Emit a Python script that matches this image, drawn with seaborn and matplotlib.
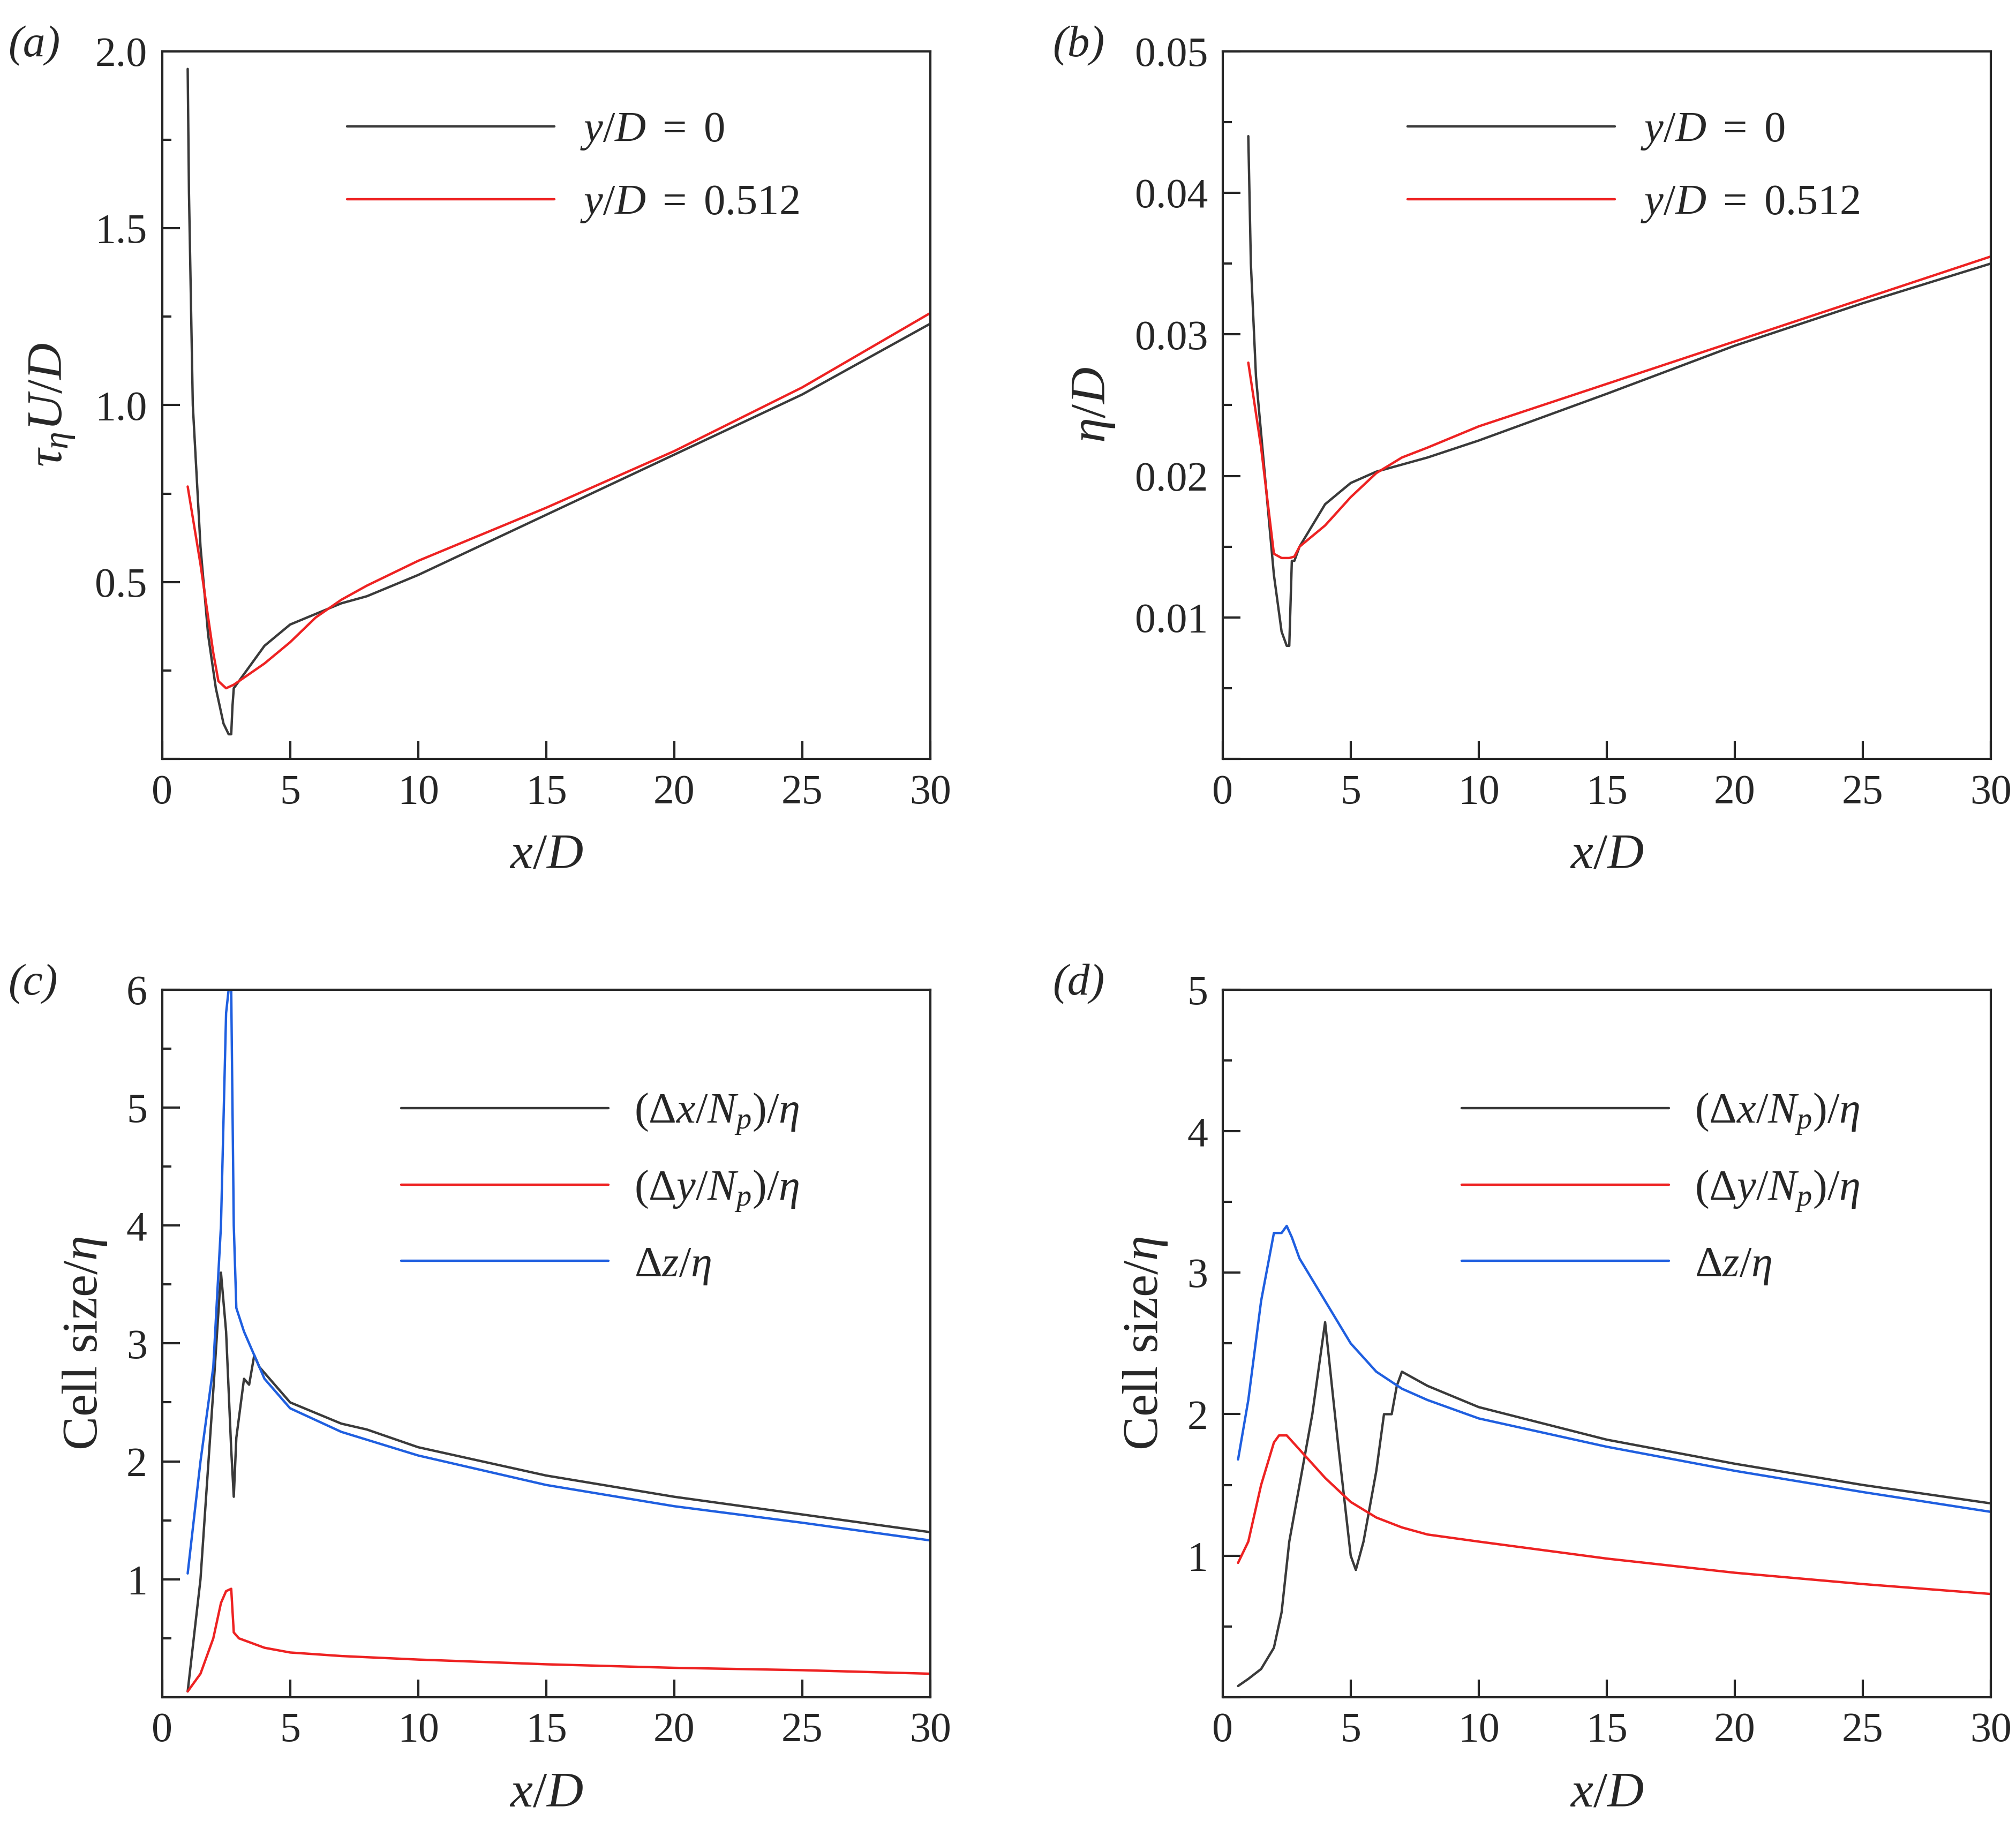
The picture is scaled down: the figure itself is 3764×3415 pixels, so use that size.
import numpy as np
import pandas as pd
import seaborn as sns
import matplotlib
matplotlib.use("Agg")
import matplotlib.pyplot as plt
from matplotlib.ticker import MultipleLocator

sns.set_style("ticks")
plt.rcParams['font.family'] = ['Liberation Serif', 'DejaVu Serif']
plt.rcParams['mathtext.fontset'] = 'custom'
plt.rcParams['mathtext.rm'] = 'Liberation Serif'
plt.rcParams['mathtext.it'] = 'Liberation Serif:italic'
plt.rcParams['mathtext.bf'] = 'Liberation Serif:bold'

# ---- data ----
a_k_x = [1.0,1.05,1.2,1.5,1.8,2.1,2.4,2.6,2.7,2.75,2.8,3.0,3.5,4,5,6,7,8,10,15,20,25,30]
a_k_y = [1.95,1.6,1.0,0.6,0.35,0.2,0.1,0.07,0.07,0.15,0.2,0.22,0.27,0.32,0.38,0.41,0.44,0.46,0.52,0.69,0.86,1.03,1.23]
a_r_x = [1.0,1.5,2.0,2.2,2.5,2.8,3.0,4,5,6,7,8,10,15,20,25,30]
a_r_y = [0.77,0.55,0.3,0.22,0.2,0.21,0.22,0.27,0.33,0.4,0.45,0.49,0.56,0.71,0.87,1.05,1.26]

b_k_x = [1.0,1.1,1.3,1.6,2.0,2.3,2.5,2.6,2.7,2.8,3,4,5,6,7,8,10,15,20,25,30]
b_k_y = [0.044,0.035,0.027,0.021,0.013,0.009,0.008,0.008,0.014,0.014,0.015,0.018,0.0195,0.0203,0.0208,0.0213,0.0225,0.0258,0.0292,0.0322,0.035]
b_r_x = [1,1.5,2,2.3,2.6,2.8,3,4,5,6,7,8,10,15,20,25,30]
b_r_y = [0.028,0.022,0.0145,0.0142,0.0142,0.0143,0.015,0.0165,0.0185,0.0202,0.0213,0.022,0.0235,0.0265,0.0295,0.0325,0.0355]

c_k_x = [1,1.5,2,2.3,2.5,2.7,2.8,2.9,3.2,3.4,3.6,3.8,4,5,7,8,10,15,20,25,30]
c_k_y = [0.05,1.0,2.6,3.6,3.1,2.1,1.7,2.2,2.7,2.65,2.9,2.8,2.75,2.5,2.32,2.27,2.12,1.88,1.7,1.55,1.4]
c_r_x = [1,1.5,2,2.3,2.5,2.7,2.8,3,4,5,7,10,15,20,25,30]
c_r_y = [0.05,0.2,0.5,0.8,0.9,0.92,0.55,0.5,0.42,0.38,0.35,0.32,0.28,0.25,0.23,0.2]
c_b_x = [1,1.5,2,2.3,2.5,2.6,2.7,2.8,2.9,3.2,3.6,4,5,7,10,15,20,25,30]
c_b_y = [1.05,2.0,2.8,4.0,5.8,6.0,6.0,4.0,3.3,3.1,2.9,2.7,2.45,2.25,2.05,1.8,1.62,1.48,1.33]

d_k_x = [0.6,1,1.5,2,2.3,2.6,3,3.5,4,4.5,5,5.2,5.5,6,6.3,6.6,6.8,7,8,10,15,20,25,30]
d_k_y = [0.08,0.13,0.2,0.35,0.6,1.1,1.5,2.0,2.65,1.8,1.0,0.9,1.1,1.6,2.0,2.0,2.2,2.3,2.2,2.05,1.82,1.65,1.5,1.37]
d_r_x = [0.6,1,1.5,2,2.2,2.5,3,4,5,6,7,8,10,15,20,25,30]
d_r_y = [0.95,1.1,1.5,1.8,1.85,1.85,1.75,1.55,1.38,1.27,1.2,1.15,1.1,0.98,0.88,0.8,0.73]
d_b_x = [0.6,1,1.5,2,2.3,2.5,2.7,3,4,5,6,7,8,10,15,20,25,30]
d_b_y = [1.68,2.1,2.8,3.28,3.28,3.33,3.25,3.1,2.8,2.5,2.3,2.18,2.1,1.97,1.77,1.6,1.45,1.31]

lab_y = [r'$y/D\ =\ 0$', r'$y/D\ =\ 0.512$']
lab_c = [r'$(\Delta x/N_p)/\eta$', r'$(\Delta y/N_p)/\eta$', r'$\Delta z/\eta$']

K, R, B = '#3a3a3a', '#ee2222', '#1f5fe0'

fig = plt.figure(figsize=(18.82, 17.075), dpi=200)
pos = {'a': [0.0804, 0.585, 0.381, 0.387], 'b': [0.6065, 0.585, 0.381, 0.387],
       'c': [0.0804, 0.072, 0.381, 0.387], 'd': [0.6065, 0.072, 0.381, 0.387]}
FS = 28

def setup(ax, ymax, ymaj, ymin, ylabel, fmt):
    ax.set_xlim(0, 30)
    ax.set_ylim(0, ymax)
    ax.xaxis.set_major_locator(MultipleLocator(5))
    ax.yaxis.set_major_locator(MultipleLocator(ymaj))
    ax.yaxis.set_minor_locator(MultipleLocator(ymin))
    ax.tick_params(direction='in', which='major', length=12, width=1.5, labelsize=FS, pad=10)
    ax.tick_params(direction='in', which='minor', length=6, width=1.5)
    ticks = np.arange(0, ymax + ymaj / 2, ymaj)
    ax.set_yticks(ticks)
    ax.set_yticklabels([''] + [fmt.format(t) for t in ticks[1:]])
    ax.set_xticks(np.arange(0, 31, 5))
    ax.set_xticklabels([str(v) for v in range(0, 31, 5)])
    for s in ax.spines.values():
        s.set_linewidth(1.5)
    ax.set_xlabel(r'$x/D$', fontsize=34, labelpad=14)
    ax.set_ylabel(ylabel, fontsize=34, labelpad=12)

def leg(ax, y0):
    ax.legend(frameon=False, fontsize=29, handlelength=4.8, labelspacing=0.75,
              loc='upper right', bbox_to_anchor=(0.88, y0), handletextpad=0.6)

ax = fig.add_axes(pos['a'])
sns.lineplot(x=a_k_x, y=a_k_y, color=K, lw=1.6, label=lab_y[0], ax=ax)
sns.lineplot(x=a_r_x, y=a_r_y, color=R, lw=1.6, label=lab_y[1], ax=ax)
setup(ax, 2.0, 0.5, 0.25, r'$\tau_\eta U/D$', '{:.1f}')
leg(ax, 0.97)

ax = fig.add_axes(pos['b'])
sns.lineplot(x=b_k_x, y=b_k_y, color=K, lw=1.6, label=lab_y[0], ax=ax)
sns.lineplot(x=b_r_x, y=b_r_y, color=R, lw=1.6, label=lab_y[1], ax=ax)
setup(ax, 0.05, 0.01, 0.005, r'$\eta/D$', '{:.2f}')
leg(ax, 0.97)

ax = fig.add_axes(pos['c'])
sns.lineplot(x=c_k_x, y=c_k_y, color=K, lw=1.6, label=lab_c[0], ax=ax)
sns.lineplot(x=c_r_x, y=c_r_y, color=R, lw=1.6, label=lab_c[1], ax=ax)
sns.lineplot(x=c_b_x, y=c_b_y, color=B, lw=1.6, label=lab_c[2], ax=ax)
setup(ax, 6, 1, 0.5, r'Cell size/$\eta$', '{:.0f}')
leg(ax, 0.91)

ax = fig.add_axes(pos['d'])
sns.lineplot(x=d_k_x, y=d_k_y, color=K, lw=1.6, label=lab_c[0], ax=ax)
sns.lineplot(x=d_r_x, y=d_r_y, color=R, lw=1.6, label=lab_c[1], ax=ax)
sns.lineplot(x=d_b_x, y=d_b_y, color=B, lw=1.6, label=lab_c[2], ax=ax)
setup(ax, 5, 1, 0.5, r'Cell size/$\eta$', '{:.0f}')
leg(ax, 0.91)

for t, x, y in [('a', 0.004, 0.975), ('b', 0.522, 0.975), ('c', 0.004, 0.462), ('d', 0.522, 0.462)]:
    fig.text(x, y, '(' + t + ')', fontsize=30, style='italic', va='center')

fig.savefig('out.png', dpi=200)
